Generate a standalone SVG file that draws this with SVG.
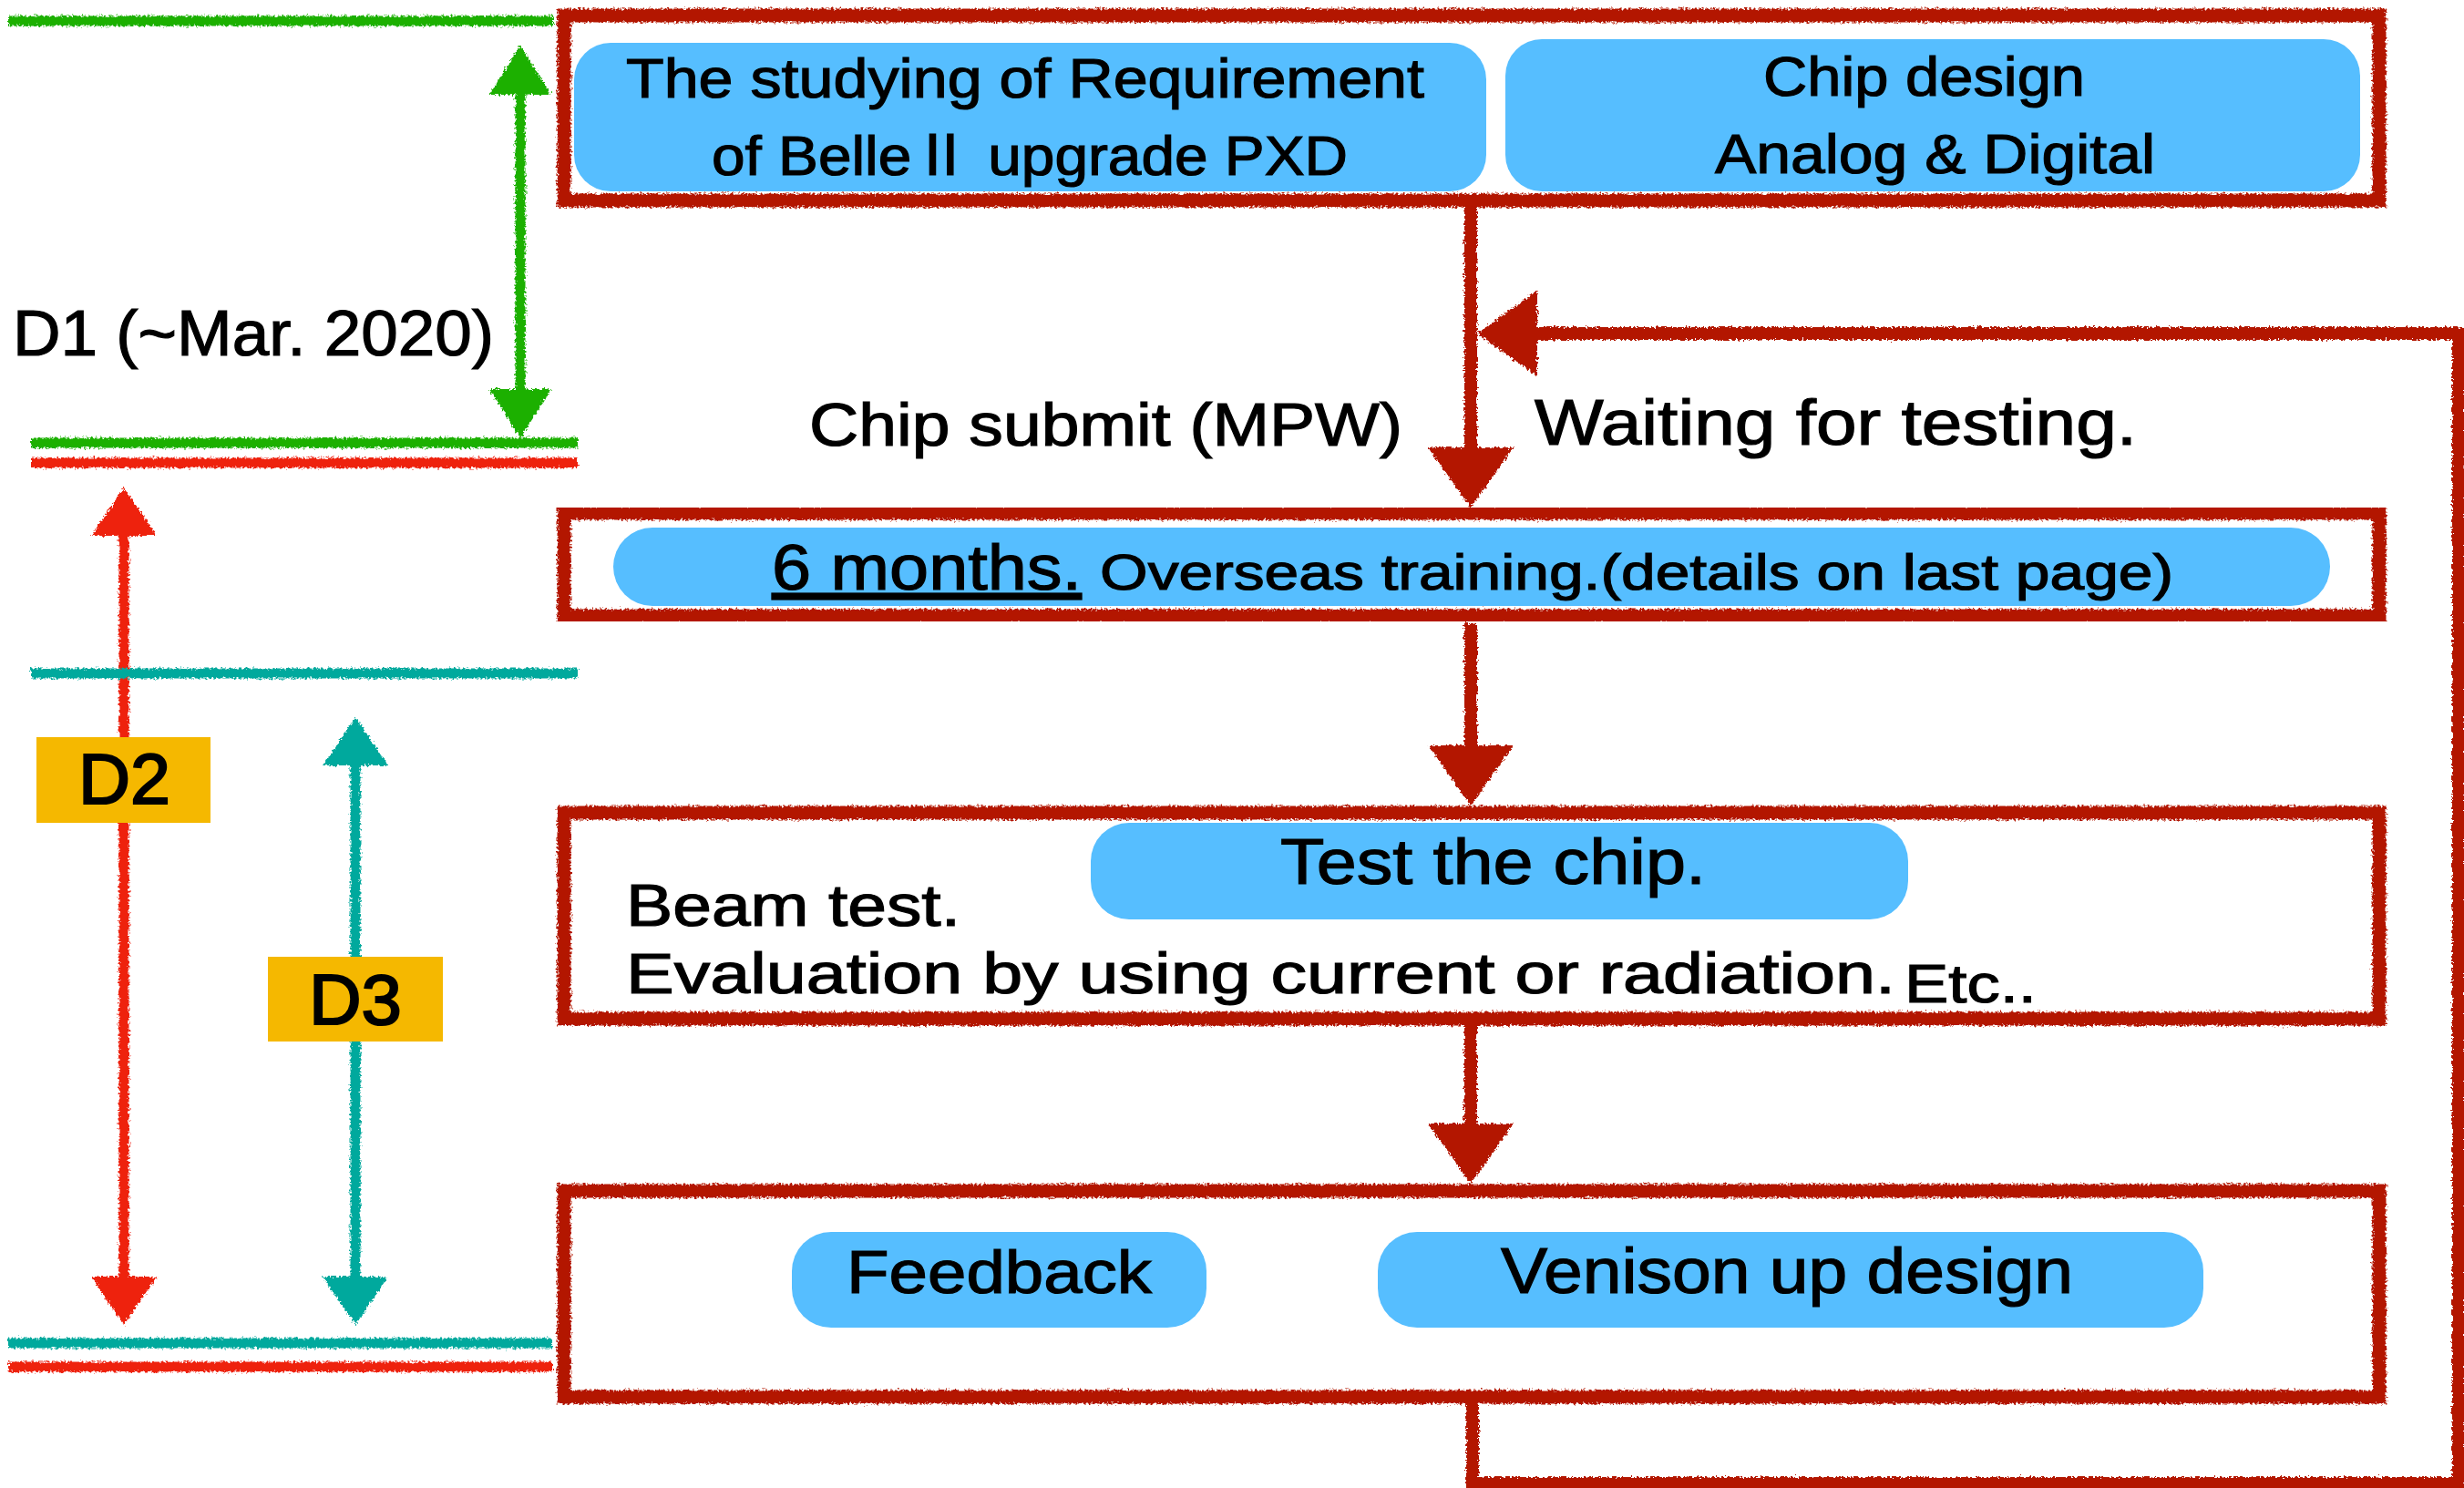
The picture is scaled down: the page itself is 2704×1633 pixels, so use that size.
<svg xmlns="http://www.w3.org/2000/svg" width="2704" height="1633" viewBox="0 0 2704 1633">
<style>
text{font-family:"Liberation Sans","Noto Sans CJK JP",sans-serif;fill:#000;stroke:#000;stroke-width:1.2}
.bold{stroke-width:2.2}
.frame{fill:none;stroke:#B31800;stroke-width:15}
.pill{fill:#56BEFF}
.tag{fill:#F5B800}
.con{fill:none;stroke:#B31800;stroke-width:14}
.g{fill:none;stroke:#1DB000;stroke-width:11}
.r{fill:none;stroke:#EE2211;stroke-width:11}
.t{fill:none;stroke:#00A99D;stroke-width:11}
</style>
<defs>
<filter id="rough" x="-5%" y="-5%" width="110%" height="110%">
<feTurbulence type="fractalNoise" baseFrequency="0.4" numOctaves="2" seed="3" result="n"/>
<feDisplacementMap in="SourceGraphic" in2="n" scale="7" xChannelSelector="R" yChannelSelector="G"/>
</filter>
<marker id="ahDark" markerUnits="userSpaceOnUse" viewBox="0 -47 66 94" markerWidth="66" markerHeight="94" refX="0" refY="0" orient="auto"><path d="M0,-47 L66,0 L0,47 Z" fill="#B31800"/></marker>
<marker id="ahGreen" markerUnits="userSpaceOnUse" viewBox="0 -34 54 68" markerWidth="54" markerHeight="68" refX="0" refY="0" orient="auto-start-reverse"><path d="M0,-34 L54,0 L0,34 Z" fill="#1DB000"/></marker>
<marker id="ahRed" markerUnits="userSpaceOnUse" viewBox="0 -36 53 72" markerWidth="53" markerHeight="72" refX="0" refY="0" orient="auto-start-reverse"><path d="M0,-36 L53,0 L0,36 Z" fill="#EE2211"/></marker>
<marker id="ahTeal" markerUnits="userSpaceOnUse" viewBox="0 -36 53 73" markerWidth="53" markerHeight="73" refX="0" refY="0" orient="auto-start-reverse"><path d="M0,-36 L53,0 L0,36 Z" fill="#00A99D"/></marker>
</defs>
<rect width="2704" height="1633" fill="#fff"/>

<g id="timeline" filter="url(#rough)">
<line class="g" x1="9" y1="23" x2="607" y2="23"/>
<path class="g" d="M571 104 V427" marker-start="url(#ahGreen)" marker-end="url(#ahGreen)"/>
<line class="g" x1="34" y1="486" x2="634" y2="486"/>
<line class="r" x1="34" y1="508" x2="634" y2="508"/>
<path class="r" d="M136 588 V1401" marker-start="url(#ahRed)" marker-end="url(#ahRed)"/>
<line class="t" x1="34" y1="739" x2="634" y2="739"/>
<path class="t" d="M390 840 V1401" marker-start="url(#ahTeal)" marker-end="url(#ahTeal)"/>
<line class="t" x1="9" y1="1474" x2="606" y2="1474"/>
<line class="r" x1="9" y1="1500" x2="606" y2="1500"/>
</g>

<g id="label-d1"><text x="14" y="390" font-size="70" textLength="528" lengthAdjust="spacingAndGlyphs">D1 (~Mar. 2020)</text></g>
<g id="label-d2"><rect class="tag" x="40" y="809" width="191" height="94"/><text class="bold" x="86" y="882" font-size="78" textLength="101" lengthAdjust="spacingAndGlyphs">D2</text></g>
<g id="label-d3"><rect class="tag" x="294" y="1050" width="192" height="93"/><text class="bold" x="339" y="1124" font-size="78" textLength="102" lengthAdjust="spacingAndGlyphs">D3</text></g>

<g id="connectors" filter="url(#rough)">
<path class="con" d="M1614 226 V491" marker-end="url(#ahDark)"/>
<path class="con" d="M1614 684 V818" marker-end="url(#ahDark)"/>
<path class="con" d="M1614 1124 V1233" marker-end="url(#ahDark)"/>
<path class="con" d="M1616 1538 V1628 H2698 V366 H1687" marker-end="url(#ahDark)"/>
</g>
<g id="label-submit"><text x="888" y="489" font-size="66" textLength="651" lengthAdjust="spacingAndGlyphs">Chip submit (MPW)</text></g>
<g id="label-waiting"><text x="1684" y="488" font-size="70" textLength="661" lengthAdjust="spacingAndGlyphs">Waiting for testing.</text></g>

<g id="stage1">
<rect class="frame" x="619" y="17" width="1992" height="203" filter="url(#rough)"/>
<rect class="pill" x="630" y="47" width="1001" height="163" rx="40"/>
<text x="687" y="107" font-size="62" textLength="876" lengthAdjust="spacingAndGlyphs">The studying of Requirement</text>
<text x="781" y="192" font-size="62" textLength="698" lengthAdjust="spacingAndGlyphs">of BelleⅡ upgrade PXD</text>
<rect class="pill" x="1652" y="43" width="938" height="167" rx="40"/>
<text x="1935" y="105" font-size="62" textLength="353" lengthAdjust="spacingAndGlyphs">Chip design</text>
<text x="1882" y="190" font-size="62" textLength="483" lengthAdjust="spacingAndGlyphs">Analog &amp; Digital</text>
</g>

<g id="stage2">
<rect class="frame" x="619" y="563" width="1992" height="113" filter="url(#rough)"/>
<rect class="pill" x="673" y="579" width="1884" height="86" rx="43"/>
<text x="847" y="647" font-size="70" textLength="340" lengthAdjust="spacingAndGlyphs" text-decoration="underline">6 months.</text>
<text x="1207" y="647" font-size="56" textLength="1178" lengthAdjust="spacingAndGlyphs">Overseas training.(details on last page)</text>
</g>

<g id="stage3">
<rect class="frame" x="619" y="892" width="1992" height="226" filter="url(#rough)"/>
<rect class="pill" x="1197" y="903" width="897" height="106" rx="42"/>
<text x="1405" y="970" font-size="70" textLength="467" lengthAdjust="spacingAndGlyphs">Test the chip.</text>
<text x="687" y="1016" font-size="64" textLength="367" lengthAdjust="spacingAndGlyphs">Beam test.</text>
<text x="687" y="1090" font-size="63" textLength="1393" lengthAdjust="spacingAndGlyphs">Evaluation by using current or radiation.</text>
<text x="2090" y="1100" font-size="60" textLength="145" lengthAdjust="spacingAndGlyphs">Etc..</text>
</g>

<g id="stage4">
<rect class="frame" x="619" y="1307" width="1992" height="226" filter="url(#rough)"/>
<rect class="pill" x="869" y="1352" width="455" height="105" rx="43"/>
<text x="929" y="1419" font-size="66" textLength="335" lengthAdjust="spacingAndGlyphs">Feedback</text>
<rect class="pill" x="1512" y="1352" width="906" height="105" rx="43"/>
<text x="1647" y="1419" font-size="70" textLength="628" lengthAdjust="spacingAndGlyphs">Venison up design</text>
</g>
</svg>
